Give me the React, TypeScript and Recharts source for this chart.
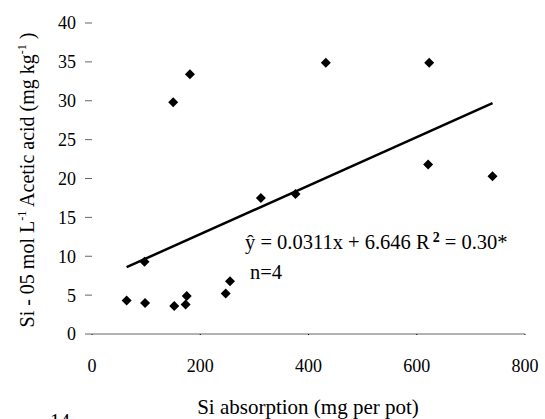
import React from 'react';
import { ScatterChart, Scatter, XAxis, YAxis } from 'recharts';

// Si absorption (mg per pot) vs extracted Si (mg kg-1)
const siAbsorption = [64, 97, 98, 152, 173, 175, 247, 255, 312, 376, 150, 181, 432, 623, 621, 740];
const siExtracted = [4.3, 9.3, 4.0, 3.6, 3.8, 4.9, 5.2, 6.8, 17.5, 18.0, 29.8, 33.4, 34.9, 34.9, 21.8, 20.3];

// regression line end points
const trendX = [64, 740];
const trendY = [8.6, 29.7];

const xTicks = [0, 200, 400, 600, 800];
const yTicks = [0, 5, 10, 15, 20, 25, 30, 35, 40];

const points = siAbsorption.map((x, i) => ({ x, y: siExtracted[i] }));
const trend = trendX.map((x, i) => ({ x, y: trendY[i] }));

const FONT = "'Liberation Serif', 'DejaVu Serif', Tinos, 'Times New Roman', serif";

const Diamond = (props: any) => {
  const { cx, cy } = props;
  if (cx == null || cy == null) return <g />;
  const r = 5;
  return (
    <polygon
      points={`${cx},${cy - r} ${cx + r},${cy} ${cx},${cy + r} ${cx - r},${cy}`}
      fill="#000"
    />
  );
};

export default function App() {
  return (
    <div
      style={{ position: 'absolute', left: 0, top: 0, width: 545, height: 419, background: '#fff', fontFamily: FONT }}
    >
      <ScatterChart
        width={545}
        height={419}
        margin={{ top: 23, right: 20, bottom: 40, left: 30 }}
        style={{ fontFamily: FONT }}
      >
        <XAxis
          type="number"
          dataKey="x"
          domain={[0, 800]}
          ticks={xTicks}
          axisLine={{ stroke: '#666', strokeWidth: 1 }}
          tickLine={{ stroke: '#000', strokeDasharray: '0 5 1 20' }}
          tickSize={6}
          tickMargin={19}
          height={45}
          tick={{ fill: '#000', fontSize: 18, style: { fontFamily: FONT } }}
        />
        <YAxis
          type="number"
          dataKey="y"
          domain={[0, 40]}
          ticks={yTicks}
          axisLine={false}
          tickLine={{ stroke: '#666', strokeWidth: 1 }}
          tickSize={7}
          tickMargin={9}
          width={62}
          tick={{ fill: '#000', fontSize: 18, style: { fontFamily: FONT } }}
        />
        <Scatter
          data={trend}
          line={{ stroke: '#000', strokeWidth: 2.5 }}
          shape={() => <g />}
          isAnimationActive={false}
        />
        <Scatter data={points} shape={<Diamond />} isAnimationActive={false} />
      </ScatterChart>
      <svg
        width={545}
        height={419}
        style={{ position: 'absolute', left: 0, top: 0, pointerEvents: 'none', fontFamily: FONT }}
      >
        <text x={308} y={414} textAnchor="middle" fontSize={21} fill="#000">
          Si absorption (mg per pot)
        </text>
        <text transform="translate(34,180) rotate(-90)" textAnchor="middle" fontSize={20} fill="#000">
          Si - 05 mol L<tspan dy={-8} fontSize={12}>-1</tspan>
          <tspan dy={8}>  Acetic acid (mg kg</tspan>
          <tspan dy={-8} fontSize={12}>-1</tspan>
          <tspan dy={8}> )</tspan>
        </text>
        <text x={245} y={249} fontSize={20.5} fill="#000">
          ŷ = 0.0311x + 6.646 R<tspan dx={3} dy={-7} fontSize={14} fontWeight="bold">2</tspan>
          <tspan dy={7}> = 0.30*</tspan>
        </text>
        <text x={250} y={279} fontSize={20.5} fill="#000">n=4</text>
        <text x={50} y={428} fontSize={20} fill="#000">14</text>
      </svg>
    </div>
  );
}
